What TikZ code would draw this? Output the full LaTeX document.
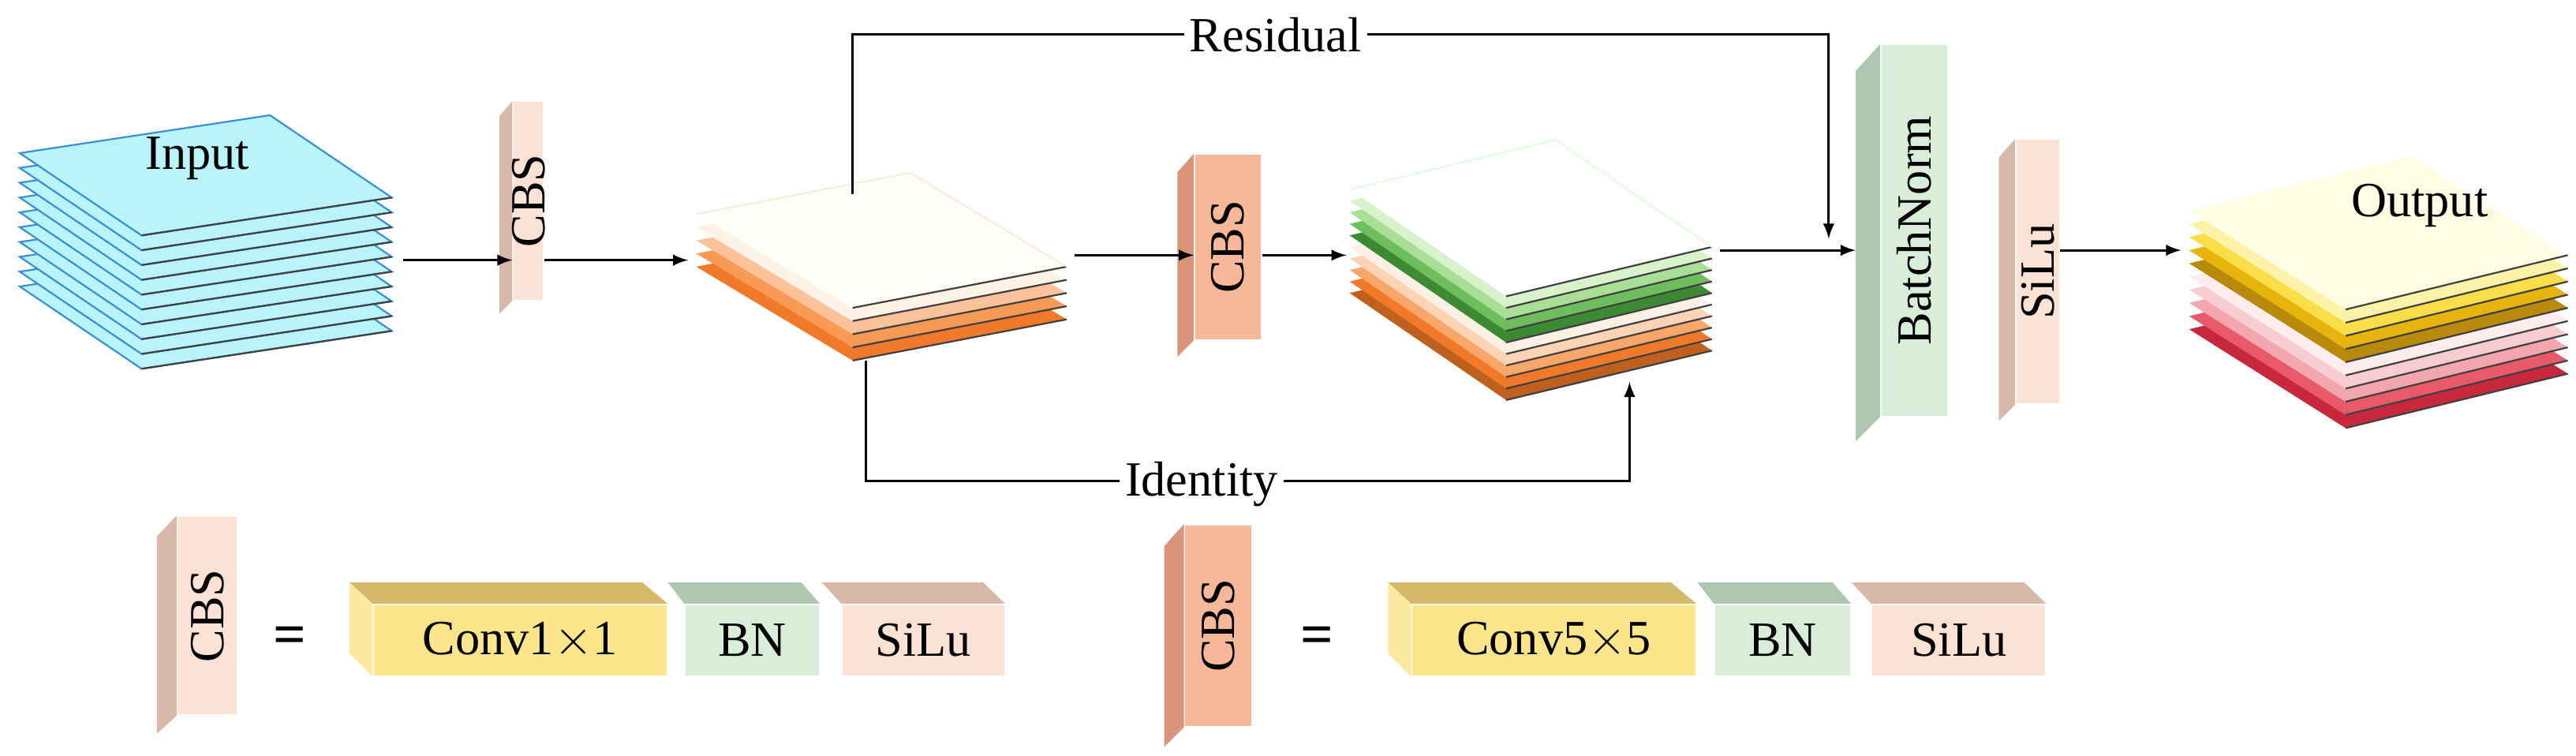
\documentclass[tikz,border=0pt]{standalone}
\usepackage{fontspec}
\setmainfont{Liberation Serif}
\usetikzlibrary{calc,positioning}
\def\un{0.02cm}
\begin{document}
\begin{tikzpicture}[x=0.02cm,y=-0.02cm, thick, >=latex]

  % Define Colors
  \definecolor{cyanlay}{HTML}{B8F4FA}
  \definecolor{cyanedge}{HTML}{3A8FD8}
  \definecolor{cbsfront}{HTML}{FBE2D4}
  \definecolor{cbsside}{HTML}{D8B8A8}
  \definecolor{cbsbfront}{HTML}{F6B898}
  \definecolor{cbsbside}{HTML}{D8957A}
  \definecolor{bnfront}{HTML}{D8EED9}
  \definecolor{bnside}{HTML}{AFC6B0}
  \definecolor{convfront}{HTML}{FCE58A}
  \definecolor{convtop}{HTML}{D4B96A}

  % Styles
  \tikzstyle{face}=[rectangle, inner sep=0pt, font=\fontsize{17}{17}\selectfont]
  \tikzstyle{vtext}=[face, rotate=90]
  \tikzstyle{edge}=[black!75, line width=0.6pt]
  \tikzstyle{link}=[line width=0.8pt]
  \tikzstyle{lbl}=[fill=white, inner sep=2pt, font=\fontsize{17}{17}\selectfont]

  \useasboundingbox (0,0) rectangle (1565,459);

  % Input stack
  \coordinate (s1) at (12,93);
  \foreach \i in {9,...,0} {
    \filldraw[fill=cyanlay, draw=cyanedge, line width=0.6pt]
      ($(s1)+(0,\i*9)$) -- ++(152,-23) -- ++(74,50) -- ++(-152,23) -- cycle;
    \draw[edge] ($(s1)+(74,50+\i*9)$) -- ++(152,-23);
  }
  \node[face] (input) at (120,96) {Input};
  \coordinate (s1-r) at (245,158);

  % CBS 1
  \node[face, fill=cbsfront, minimum width=18*\un, minimum height=120*\un] (cbs1) at (321,122) {};
  \fill[cbsside] (cbs1.north west) -- (cbs1.south west) -- ++(-8,8) -- ++(0,-120) -- cycle;
  \node[vtext] at (cbs1) {CBS};

  % Stack 2
  \coordinate (s2) at (423,130);
  \foreach \c [count=\i] in {F07A2A,F79A55,FCC39A,FFF3E8,FFFDF8} {
    \definecolor{laycol}{HTML}{\c}
    \fill[laycol] ($(s2)+(0,{(5-\i)*8})$) -- ++(130,-25) -- ++(95,57) -- ++(-130,25) -- cycle;
    \draw[edge] ($(s2)+(95,{57+(5-\i)*8})$) -- ++(130,-25);
  }
  \draw[orange!20, line width=0.4pt] (s2) -- ++(130,-25) -- ++(95,57);
  \coordinate (s2-l) at (418,158);
  \coordinate (s2-r) at (653,155);
  \coordinate (s2-top) at (518,118);
  \coordinate (s2-bot) at (526,219);

  % CBS 2
  \node[face, fill=cbsbfront, minimum width=40*\un, minimum height=112*\un] (cbs2) at (746,150) {};
  \fill[cbsbside] (cbs2.north west) -- (cbs2.south west) -- ++(-10,10) -- ++(0,-112) -- cycle;
  \node[vtext] at (cbs2) {CBS};

  % Stack 3
  \coordinate (s3) at (820,115);
  \foreach \c [count=\i] in {C0601E,F07A2A,F9A66A,FCD3B4,FCEFE4,3C8A34,6FBE5E,A8DE96,D8F2CC,FFFFFF} {
    \definecolor{laycol}{HTML}{\c}
    \fill[laycol] ($(s3)+(0,{(10-\i)*7})$) -- ++(125,-30) -- ++(95,65) -- ++(-125,30) -- cycle;
    \draw[edge] ($(s3)+(95,{65+(10-\i)*7})$) -- ++(125,-30);
  }
  \draw[green!12, line width=0.6pt] (s3) -- ++(125,-30) -- ++(95,65);
  \coordinate (s3-l) at (818,155);
  \coordinate (s3-r) at (1045,152);
  \coordinate (s3-bot) at (990,232);

  % BatchNorm and SiLu
  \node[face, fill=bnfront, minimum width=40*\un, minimum height=225*\un] (bnorm) at (1163,140) {};
  \fill[bnside] (bnorm.north west) -- (bnorm.south west) -- ++(-15,15) -- ++(0,-225) -- cycle;
  \node[vtext] at (bnorm) {BatchNorm};
  \node[face, fill=cbsfront, minimum width=26*\un, minimum height=160*\un] (silu) at (1238,165) {};
  \fill[cbsside] (silu.north west) -- (silu.south west) -- ++(-10,10) -- ++(0,-160) -- cycle;
  \node[vtext] at (silu) {SiLu};

  % Output stack
  \coordinate (s4) at (1330,128);
  \foreach \c [count=\i] in {C8283C,E85A6A,F4A6B0,F8CDD2,FDEDEE,B98A0A,E6B40C,F9DE4A,FCF3A8,FFFDE4} {
    \definecolor{laycol}{HTML}{\c}
    \fill[laycol] ($(s4)+(0,{(10-\i)*8})$) -- ++(135,-33) -- ++(95,60) -- ++(-135,33) -- cycle;
    \draw[edge] ($(s4)+(95,{60+(10-\i)*8})$) -- ++(135,-33);
  }
  \node[face] (output) at (1470,125) {Output};
  \coordinate (s4-l) at (1325,152);

  % Links
  \draw[link,->] (s1-r) -- (cbs1.west |- s1-r);
  \draw[link,->] (cbs1.east |- s1-r) -- (s2-l);
  \draw[link,->] (s2-r) -- (cbs2.west |- s2-r);
  \draw[link,->] (cbs2.east |- s2-r) -- (s3-l);
  \draw[link,->] (s3-r) -- ([xshift=-15*\un]bnorm.west |- s3-r);
  \draw[link,->] (silu.east |- s3-r) -- (s4-l);
  \coordinate (res-e) at (1111,145);
  \draw[link,->] (s2-top) -- (s2-top |- 0,21) -- (res-e |- 0,21) -- (res-e);
  \node[lbl] (residual) at (775,21) {Residual};
  \draw[link,->] (s2-bot) -- (s2-bot |- 0,292) -- (s3-bot |- 0,292) -- (s3-bot);
  \node[lbl] (identity) at (730,294) {Identity};

  % Legend 1
  \node[face, fill=cbsfront, minimum width=36*\un, minimum height=120*\un] (lcbs1) at (126,374) {};
  \fill[cbsside] (lcbs1.north west) -- (lcbs1.south west) -- ++(-12,11) -- ++(0,-120) -- cycle;
  \node[vtext] at (lcbs1) {CBS};
  \node[face, font=\bfseries\fontsize{20}{20}\selectfont] (eq1) at (176,389) {=};
  \node[face, fill=convfront, minimum width=178*\un, minimum height=43*\un] (conv1) at (316,389) {Conv1$\times$1};
  \fill[convtop] (conv1.north west) -- ++(-14,-13) -- ++(178,0) -- (conv1.north east) -- cycle;
  \fill[convfront!80] (conv1.north west) -- ++(-14,-13) -- ++(0,43) -- (conv1.south west) -- cycle;
  \node[face, fill=bnfront, minimum width=81*\un, minimum height=43*\un] (bn1) at (457,389) {BN};
  \fill[bnside] (bn1.north west) -- ++(-10,-13) -- ++(81,0) -- (bn1.north east) -- cycle;
  \node[face, fill=cbsfront, minimum width=98*\un, minimum height=43*\un] (si1) at (561,389) {SiLu};
  \fill[cbsside] (si1.north west) -- ++(-12,-13) -- ++(98,0) -- (si1.north east) -- cycle;

  % Legend 2
  \node[face, fill=cbsbfront, minimum width=40*\un, minimum height=122*\un] (lcbs2) at (740,380) {};
  \fill[cbsbside] (lcbs2.north west) -- (lcbs2.south west) -- ++(-12,12) -- ++(0,-122) -- cycle;
  \node[vtext] at (lcbs2) {CBS};
  \node[face, font=\bfseries\fontsize{20}{20}\selectfont] (eq2) at (800,389) {=};
  \node[face, fill=convfront, minimum width=172*\un, minimum height=43*\un] (conv2) at (944,389) {Conv5$\times$5};
  \fill[convtop] (conv2.north west) -- ++(-14,-13) -- ++(172,0) -- (conv2.north east) -- cycle;
  \fill[convfront!80] (conv2.north west) -- ++(-14,-13) -- ++(0,43) -- (conv2.south west) -- cycle;
  \node[face, fill=bnfront, minimum width=82*\un, minimum height=43*\un] (bn2) at (1083,389) {BN};
  \fill[bnside] (bn2.north west) -- ++(-10,-13) -- ++(82,0) -- (bn2.north east) -- cycle;
  \node[face, fill=cbsfront, minimum width=105*\un, minimum height=43*\un] (si2) at (1190,389) {SiLu};
  \fill[cbsside] (si2.north west) -- ++(-12,-13) -- ++(105,0) -- (si2.north east) -- cycle;

\end{tikzpicture}
\end{document}
